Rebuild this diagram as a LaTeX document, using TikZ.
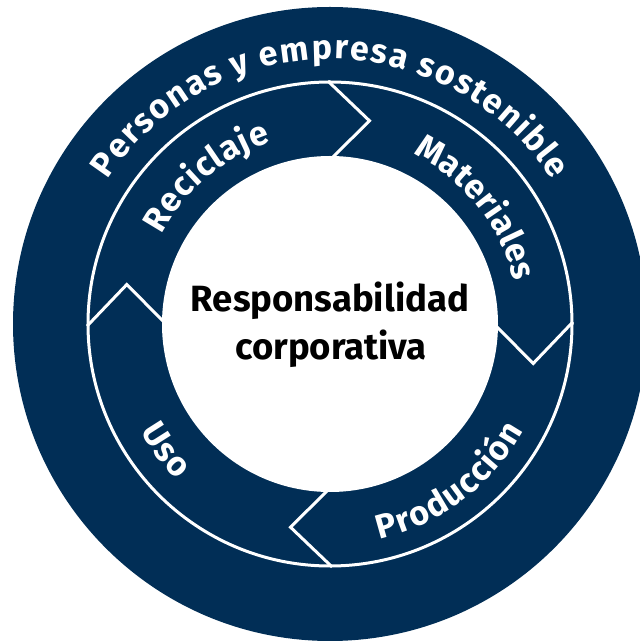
\documentclass[tikz,border=0pt]{standalone}
\usepackage{fontspec}
\setmainfont{Fira Sans}
\usetikzlibrary{decorations.text,calc}
\definecolor{navy}{RGB}{1,46,86}
\tikzset{
  chev/.style={white, line width=3pt, line join=miter},
  title/.style={font=\bfseries\fontsize{36.5}{36.5}\selectfont, text=black, anchor=base, inner sep=0pt},
  ring label/.style={decorate, decoration={text effects along path, text={#1},
      text effects/.cd, text along path, fit text to path,
      characters={text=white, font=\bfseries\fontsize{34}{34}\selectfont, inner sep=0pt}}},
}
\begin{document}
\begin{tikzpicture}[x=1pt,y=1pt]
\useasboundingbox (0,0) rectangle (640,643);
\clip (0,0) rectangle (640,643);
\coordinate (c) at (330,319);
\fill[navy] (c) circle (317);
\draw[white, line width=3pt] (c) circle (242);
\fill[white] (c) circle (168);
\foreach \a in {90,0,-90,180}{
  \draw[chev] ($(c)+(\a+0.5:243)$) -- ($(c)+(\a-11:207)$) -- ($(c)+(\a-1:167)$);
}
\node[title] (l1) at (330,331) {Responsabilidad};
\node[title] (l2) at (331,283) {corporativa};
\path[ring label={Personas y empresa sostenible}] ($(c)+(147:265)$) arc (147:33:265);
\path[ring label={Reciclaje}] ($(c)+(152:191)$) arc (152:108:191);
\path[ring label={Materiales}] ($(c)+(64:189)$) arc (64:13:189);
\path[ring label={Producción}] ($(c)+(-77:221)$) arc (-77:-29:221);
\path[ring label={Uso}] ($(c)+(209.5:218)$) arc (209.5:225.5:218);
\end{tikzpicture}
\end{document}
